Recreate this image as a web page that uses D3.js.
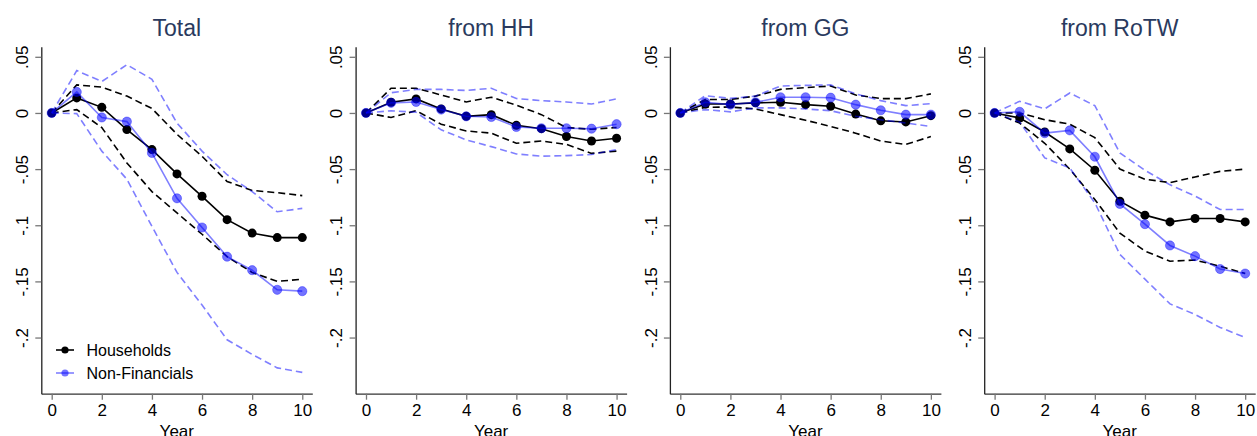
<!DOCTYPE html>
<html>
<head>
<meta charset="utf-8">
<script src="https://cdn.jsdelivr.net/npm/d3@7"></script>
<style>
  body { margin: 0; background: #fff; }
  svg { font-family: "Liberation Sans", Arial, sans-serif; }
</style>
</head>
<body>
<div id="container"></div>
<script>
let w = 1257;
let h = 436;

// DATA
let years = [0, 1, 2, 3, 4, 5, 6, 7, 8, 9, 10];
let titles = ["Total", "from HH", "from GG", "from RoTW"];
let yTicks = [0.05, 0, -0.05, -0.1, -0.15, -0.2];
let yTickLabels = [".05", "0", "-.05", "-.1", "-.15", "-.2"];
let xTicks = [0, 2, 4, 6, 8, 10];
let seriesNames = ["Households", "Non-Financials"];

// Total
let totalHH   = [0, 0.0134, 0.005, -0.0148, -0.0326, -0.0543, -0.0742, -0.095, -0.107, -0.111, -0.111];
let totalHHHi = [0, 0.025, 0.023, 0.015, 0.004, -0.019, -0.0386, -0.061, -0.069, -0.071, -0.0736];
let totalHHLo = [0, 0.003, -0.013, -0.0445, -0.07, -0.089, -0.108, -0.128, -0.142, -0.15, -0.148];
let totalNF   = [0, 0.0187, -0.004, -0.0077, -0.0356, -0.076, -0.102, -0.128, -0.140, -0.1575, -0.1587];
let totalNFHi = [0, 0.0377, 0.028, 0.043, 0.030, -0.009, -0.034, -0.055, -0.070, -0.088, -0.085];
let totalNFLo = [0, -0.0006, -0.034, -0.059, -0.101, -0.142, -0.171, -0.202, -0.215, -0.227, -0.231];

// from HH
let hhHH   = [0, 0.0095, 0.0125, 0.0036, -0.003, -0.0015, -0.011, -0.014, -0.021, -0.025, -0.0225];
let hhHHHi = [0, 0.022, 0.022, 0.016, 0.0098, 0.014, 0.007, -0.0015, -0.013, -0.0145, -0.013];
let hhHHLo = [0, -0.004, 0.002, -0.010, -0.016, -0.018, -0.027, -0.025, -0.028, -0.036, -0.034];
let hhNF   = [0, 0.009, 0.0098, 0.003, -0.003, -0.0036, -0.0125, -0.0136, -0.0136, -0.014, -0.010];
let hhNFHi = [0, 0.018, 0.021, 0.021, 0.020, 0.022, 0.0128, 0.011, 0.0098, 0.008, 0.0125];
let hhNFLo = [0, 0.002, 0.0006, -0.015, -0.024, -0.030, -0.0365, -0.0385, -0.038, -0.037, -0.0326];

// from GG
let ggHH   = [0, 0.008, 0.008, 0.009, 0.0095, 0.0074, 0.006, -0.001, -0.007, -0.008, -0.0024];
let ggHHHi = [0, 0.012, 0.012, 0.015, 0.021, 0.0225, 0.024, 0.016, 0.0128, 0.0128, 0.017];
let ggHHLo = [0, 0.005, 0.0053, 0.0036, -0.0015, -0.0065, -0.012, -0.018, -0.025, -0.028, -0.021];
let ggNF   = [0, 0.0095, 0.0074, 0.0095, 0.014, 0.014, 0.0136, 0.0074, 0.0024, -0.0015, -0.0015];
let ggNFHi = [0, 0.0154, 0.013, 0.015, 0.024, 0.0246, 0.025, 0.017, 0.011, 0.0065, 0.0083];
let ggNFLo = [0, 0.003, 0.001, 0.0045, 0.0045, 0.0036, 0.002, -0.003, -0.006, -0.009, -0.012];

// from RoTW
let rowHH   = [0, -0.0045, -0.017, -0.032, -0.051, -0.0786, -0.091, -0.097, -0.094, -0.094, -0.097];
let rowHHHi = [0, 0, -0.006, -0.010, -0.022, -0.050, -0.059, -0.062, -0.057, -0.052, -0.050];
let rowHHLo = [0, -0.009, -0.027, -0.050, -0.077, -0.107, -0.123, -0.132, -0.131, -0.1365, -0.143];
let rowNF   = [0, 0.001, -0.018, -0.0155, -0.039, -0.081, -0.099, -0.118, -0.1275, -0.139, -0.143];
let rowNFHi = [0, 0.0104, 0.0036, 0.0178, 0.0065, -0.0356, -0.051, -0.064, -0.074, -0.086, -0.086];
let rowNFLo = [0, -0.008, -0.040, -0.049, -0.080, -0.126, -0.148, -0.170, -0.1795, -0.191, -0.200];

let panels = [
  {hh: totalHH, hhHi: totalHHHi, hhLo: totalHHLo, nf: totalNF, nfHi: totalNFHi, nfLo: totalNFLo},
  {hh: hhHH, hhHi: hhHHHi, hhLo: hhHHLo, nf: hhNF, nfHi: hhNFHi, nfLo: hhNFLo},
  {hh: ggHH, hhHi: ggHHHi, hhLo: ggHHLo, nf: ggNF, nfHi: ggNFHi, nfLo: ggNFLo},
  {hh: rowHH, hhHi: rowHHHi, hhLo: rowHHLo, nf: rowNF, nfHi: rowNFHi, nfLo: rowNFLo}
];

let black = "#000";
let blue = "rgba(0,0,255,0.5)";
let blueMarker = "rgba(0,0,255,0.55)";
let titleColor = "#2a3a5e";

// SVG
let viz = d3.select("#container").append("svg")
    .attr("width", w)
    .attr("height", h);

let plotTop = 46.7;
let plotBottom = 393.7;
let plotW = 271;
let panelStep = 314.3;
let firstAxisX = 41.3;

let y = d3.scaleLinear().domain([-0.25, 0.059]).range([plotBottom, plotTop]);

panels.forEach(function(p, i){
  let x0 = firstAxisX + panelStep * i;
  let x = d3.scaleLinear().domain([-0.415, 10.4]).range([x0, x0 + plotW]);

  let g = viz.append("g");

  // title
  g.append("text")
    .attr("x", x0 + plotW / 2)
    .attr("y", 35.5)
    .attr("text-anchor", "middle")
    .attr("font-size", 23)
    .attr("fill", titleColor)
    .text(titles[i]);

  // x axis
  let xAxis = g.append("g")
    .attr("transform", "translate(0," + plotBottom + ")")
    .call(d3.axisBottom(x).tickValues(xTicks).tickSize(6).tickSizeOuter(0).tickPadding(4));
  xAxis.select(".domain").attr("stroke", "#333").attr("stroke-width", 1.3);
  xAxis.selectAll(".tick line").attr("stroke", "#777").attr("stroke-width", 1.3);
  xAxis.selectAll(".tick text").attr("font-size", 17).attr("fill", "#000")
    .attr("font-family", "Liberation Sans, Arial, sans-serif");

  // y axis
  let yAxis = g.append("g")
    .attr("transform", "translate(" + x0 + ",0)")
    .call(d3.axisLeft(y).tickValues(yTicks).tickSize(6).tickSizeOuter(0)
      .tickFormat(function(d, k){ return yTickLabels[k]; }));
  yAxis.select(".domain").attr("stroke", "#222").attr("stroke-width", 1.3);
  yAxis.selectAll(".tick line").attr("stroke", "#777").attr("stroke-width", 1.3);
  yAxis.selectAll(".tick text")
    .attr("font-size", 17).attr("fill", "#000")
    .attr("font-family", "Liberation Sans, Arial, sans-serif")
    .attr("x", 0).attr("dy", null).attr("y", 0)
    .attr("text-anchor", "middle")
    .attr("transform", "translate(-13.3,0) rotate(-90)");

  // x label (cut off at the bottom edge, as in the original)
  g.append("text")
    .attr("x", x0 + plotW / 2)
    .attr("y", 437)
    .attr("text-anchor", "middle")
    .attr("font-size", 17)
    .text("Year");

  let line = d3.line()
    .x(function(d, k){ return x(years[k]); })
    .y(function(d){ return y(d); });

  // confidence bands (dashed)
  [p.hhHi, p.hhLo].forEach(function(s){
    g.append("path").attr("d", line(s)).attr("fill", "none")
      .attr("stroke", black).attr("stroke-width", 1.6).attr("stroke-dasharray", "7,4");
  });

  // households
  g.append("path").attr("d", line(p.hh)).attr("fill", "none")
    .attr("stroke", black).attr("stroke-width", 1.6);
  g.selectAll(".hh").data(p.hh).enter().append("circle")
    .attr("class", "hh")
    .attr("cx", function(d, k){ return x(years[k]); })
    .attr("cy", function(d){ return y(d); })
    .attr("r", 4.5)
    .attr("fill", black);

  [p.nfHi, p.nfLo].forEach(function(s){
    g.append("path").attr("d", line(s)).attr("fill", "none")
      .attr("stroke", blue).attr("stroke-width", 1.6).attr("stroke-dasharray", "7,4");
  });

  // non-financials
  g.append("path").attr("d", line(p.nf)).attr("fill", "none")
    .attr("stroke", blue).attr("stroke-width", 1.6);
  g.selectAll(".nf").data(p.nf).enter().append("circle")
    .attr("class", "nf")
    .attr("cx", function(d, k){ return x(years[k]); })
    .attr("cy", function(d){ return y(d); })
    .attr("r", 4.6)
    .attr("fill", blueMarker)
    .attr("stroke", "rgba(0,0,255,0.35)")
    .attr("stroke-width", 1);
});

// LEGEND
let legend = viz.append("g");
let legendColors = [black, blue];
let legendMarkers = [black, blueMarker];
seriesNames.forEach(function(name, i){
  let ly = 350 + i * 23;
  legend.append("line")
    .attr("x1", 56).attr("x2", 74).attr("y1", ly).attr("y2", ly)
    .attr("stroke", legendColors[i]).attr("stroke-width", 1.6);
  legend.append("circle")
    .attr("cx", 65).attr("cy", ly).attr("r", 3.6)
    .attr("fill", legendMarkers[i]);
  legend.append("text")
    .attr("x", 86.5).attr("y", ly + 5.8)
    .attr("font-size", 16)
    .text(name);
});
</script>
</body>
</html>
